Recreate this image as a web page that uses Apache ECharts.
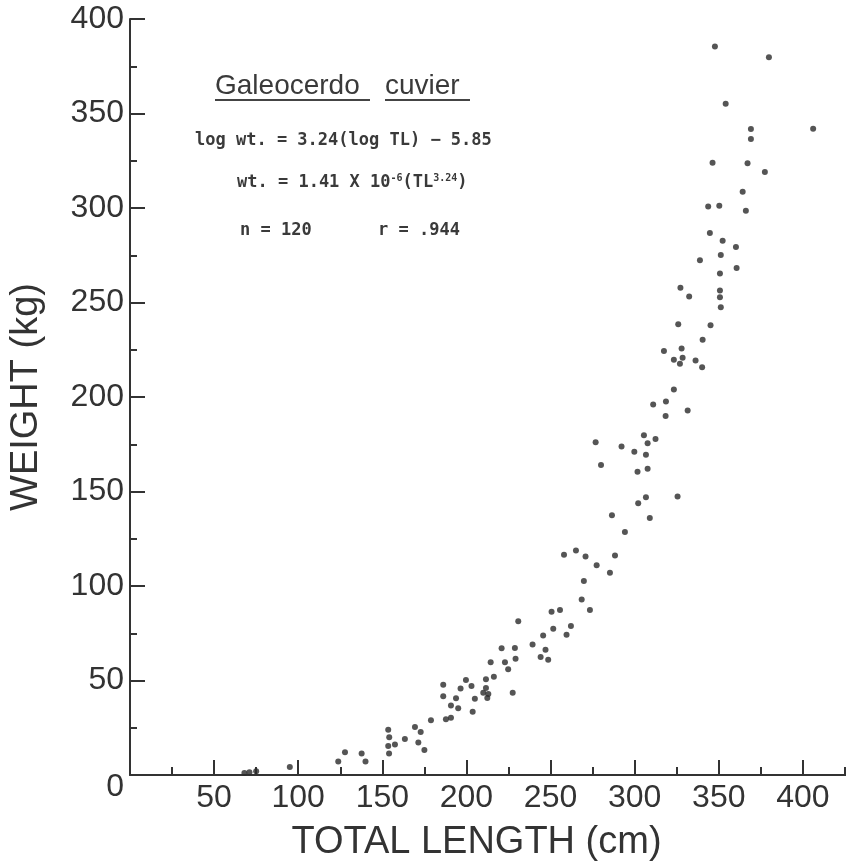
<!DOCTYPE html>
<html>
<head>
<meta charset="utf-8">
<title>Galeocerdo cuvier - weight vs total length</title>
<script src="https://cdn.jsdelivr.net/npm/echarts@6/dist/echarts.min.js"></script>
<style>
    html, body { margin: 0; padding: 0; background: #ffffff; }
    #chart { width: 846px; height: 861px; }
</style>
</head>
<body>
<div id="chart"></div>
<script>
// total length (cm) of each shark
var totalLength = [
    68, 71, 75, 95, 123.8, 127.8, 137.7, 140,
    153.5, 154.1, 153.5, 154, 157.5, 163.4, 169.4, 172.8, 171.4, 175, 178.9,
    187.8, 190.8, 203.7, 190.8, 195.1, 186.2, 193.8, 186.2, 196.5, 199.7, 203, 205,
    211.6, 211.6, 210, 213, 212.4, 216.3, 214.4, 222.9, 224.8, 220.9, 228.8, 229.2,
    227.5, 230.8, 239.3, 245.6, 247, 244.1, 248.6, 251.6, 250.6, 255.6,
    259.5, 262.1, 273.4, 268.5, 269.8, 285.3, 277.4, 288.3, 258, 265.1, 270.8,
    294.2, 286.5, 302.1, 306.7, 309, 276.8, 280, 292.2, 299.8, 305.5, 307.7, 306.7,
    301.7, 307.7,
    325.5, 312.4, 318.4, 311, 318.6, 331.5, 323.3, 317.4, 327.9, 323.3, 328.5,
    326.9, 336.2, 340.1, 340.4, 325.9, 345.1, 332.4, 350.7, 351.2,
    327.2, 338.8, 350.7, 350.7, 360.6, 351.2, 360.2, 352.3, 344.7, 343.7, 350.3,
    366.1, 364.2, 377.4,
    347.7, 379.8, 354.1, 369.1, 369.1, 406.1, 346.3, 367.1
];
// weight (kg), same order
var weight = [
    1, 1.5, 2, 4.2, 7.2, 12.1, 11.4, 7.2,
    24, 20, 15.4, 11.4, 16.1, 19, 25.4, 22.7, 17.2, 13.2, 29,
    29.5, 30.3, 33.5, 36.8, 35.3, 41.7, 40.6, 47.8, 45.8, 50.2, 47.1, 40.4,
    50.7, 46, 43.5, 42.9, 40.8, 52, 59.7, 59.7, 56, 67, 67.2, 61.5,
    43.5, 81.4, 69, 73.8, 66.3, 62.5, 61, 77.4, 86.4, 87.3,
    74.2, 78.9, 87.3, 92.8, 102.6, 107, 111, 116.2, 116.5, 118.8, 115.6,
    128.6, 137.5, 143.8, 147, 136, 176, 164, 173.8, 171, 179.7, 175.5, 169.5,
    160.4, 162.1,
    147.4, 177.8, 190, 196, 197.6, 192.9, 204, 224.3, 225.7, 219.7, 220.8,
    217.6, 219.3, 215.8, 230.3, 238.5, 238, 253.2, 252.8, 247.5,
    257.8, 272.3, 256.4, 265.3, 268.2, 275.1, 279.3, 282.7, 286.8, 300.8, 301.2,
    298.6, 308.6, 319,
    385.5, 379.7, 355.2, 341.8, 336.5, 341.9, 323.9, 323.7
];
// axis ticks
var xTicks = [0, 50, 100, 150, 200, 250, 300, 350, 400, 450];
var yTicks = [0, 50, 100, 150, 200, 250, 300, 350, 400];

var points = [];
for (var i = 0; i < totalLength.length; i++) {
    points.push([totalLength[i], weight[i]]);
}

var ink = '#333333';
var labelFont = 'Liberation Sans, Arial, sans-serif';
var monoFont = 'DejaVu Sans Mono, Liberation Mono, monospace';

var myChart = echarts.init(document.getElementById('chart'), null, { renderer: 'canvas' });
var option = {
    backgroundColor: '#ffffff',
    animation: false,
    grid: {
        left: 130,
        top: 19,
        bottom: 86,
        right: -41,     // the axis runs off the right edge of the page
        containLabel: false,
        outerBoundsMode: 'none'
    },
    xAxis: {
        type: 'value',
        min: xTicks[0],
        max: xTicks[xTicks.length - 1],
        interval: 50,
        name: 'TOTAL LENGTH (cm)',
        nameLocation: 'middle',
        nameGap: 49,
        nameTextStyle: {
            fontFamily: labelFont, fontSize: 38, color: ink,
            padding: [0, 64, 0, 0]
        },
        axisLine: { lineStyle: { color: ink, width: 2 } },
        axisTick: { inside: true, length: 15, lineStyle: { color: ink, width: 2 } },
        minorTick: { show: true, splitNumber: 2, length: 8, lineStyle: { color: ink, width: 2 } },
        splitLine: { show: false },
        axisLabel: {
            margin: 7,
            fontFamily: labelFont, fontSize: 32, color: ink,
            formatter: function (v) { return v === 0 ? '' : String(v); }
        }
    },
    yAxis: {
        type: 'value',
        min: yTicks[0],
        max: yTicks[yTicks.length - 1],
        interval: 50,
        name: 'WEIGHT (kg)',
        nameLocation: 'middle',
        nameGap: 84,
        nameRotate: 90,
        nameTextStyle: { fontFamily: labelFont, fontSize: 38, color: ink },
        axisLine: { lineStyle: { color: ink, width: 2 } },
        axisTick: { inside: true, length: 15, lineStyle: { color: ink, width: 2 } },
        minorTick: { show: true, splitNumber: 2, length: 7, lineStyle: { color: ink, width: 2 } },
        splitLine: { show: false },
        axisLabel: {
            margin: 6,
            fontFamily: labelFont, fontSize: 32, color: ink,
            formatter: function (v) { return v === 0 ? '{o|0}' : String(v); },
            rich: {
                o: { fontFamily: labelFont, fontSize: 32, color: ink, padding: [24, 0, 0, 0] }
            }
        }
    },
    series: [{
        type: 'scatter',
        data: points,
        symbol: 'circle',
        symbolSize: 6,
        itemStyle: { color: '#2a2a2a' }
    }],
    graphic: [
        { type: 'text', x: 215, y: 86, style: { text: 'Galeocerdo', font: '28px ' + labelFont, fill: '#3a3a3a', verticalAlign: 'middle' } },
        { type: 'text', x: 385, y: 86, style: { text: 'cuvier', font: '28px ' + labelFont, fill: '#3a3a3a', verticalAlign: 'middle' } },
        { type: 'line', shape: { x1: 215, y1: 100, x2: 370, y2: 100 }, style: { stroke: '#444', lineWidth: 2 } },
        { type: 'line', shape: { x1: 385, y1: 100, x2: 470, y2: 100 }, style: { stroke: '#444', lineWidth: 2 } },
        { type: 'text', x: 195, y: 141, style: { text: 'log wt. = 3.24(log TL) \u2212 5.85', font: 'bold 17px ' + monoFont, fill: '#3a3a3a', verticalAlign: 'middle' } },
        {
            type: 'text', x: 237, y: 183,
            style: {
                text: '{n|wt. = 1.41 X 10}{s|-6}{n|(TL}{s|3.24}{n|)}',
                verticalAlign: 'middle',
                rich: {
                    n: { font: 'bold 17px ' + monoFont, fill: '#3a3a3a' },
                    s: { font: 'bold 10px ' + monoFont, fill: '#3a3a3a', verticalAlign: 'top', padding: [0, 0, 10, 0] }
                }
            }
        },
        { type: 'text', x: 240, y: 231, style: { text: 'n = 120', font: 'bold 17px ' + monoFont, fill: '#3a3a3a', verticalAlign: 'middle' } },
        { type: 'text', x: 378, y: 231, style: { text: 'r = .944', font: 'bold 17px ' + monoFont, fill: '#3a3a3a', verticalAlign: 'middle' } }
    ]
};
myChart.setOption(option);
</script>
</body>
</html>
